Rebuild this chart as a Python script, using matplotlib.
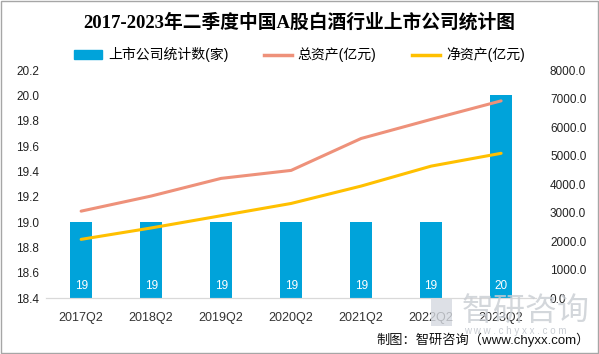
import matplotlib.pyplot as plt
from matplotlib.patches import Patch, Rectangle
from matplotlib.lines import Line2D

plt.rcParams['font.family'] = ['Liberation Sans', 'Noto Sans CJK SC']

# data
quarters = ['2017Q2', '2018Q2', '2019Q2', '2020Q2', '2021Q2', '2022Q2', '2023Q2']
companies = [19, 19, 19, 19, 19, 19, 20]
total_assets = [3050, 3580, 4200, 4480, 5600, 6270, 6920]
net_assets = [2060, 2460, 2890, 3320, 3930, 4630, 5080]

left_ticks = [18.4, 18.6, 18.8, 19.0, 19.2, 19.4, 19.6, 19.8, 20.0, 20.2]
right_ticks = [0, 1000, 2000, 3000, 4000, 5000, 6000, 7000, 8000]

bar_c = '#00A3DA'
total_c = '#EE917A'
net_c = '#FFC000'

fig = plt.figure(figsize=(5.99, 3.54), dpi=100)
ax = fig.add_axes([0.077, 0.158, 0.818, 0.644])
ax2 = ax.twinx()

x = list(range(len(quarters)))
ax.bar(x, companies, width=0.32, color=bar_c, bottom=0, zorder=2)
ax.set_ylim(18.4, 20.2)
ax.set_xlim(-0.5, len(quarters) - 0.5)
ax.set_yticks(left_ticks)
ax.set_yticklabels([f'{t:.1f}' for t in left_ticks], fontsize=8.5, color='#222222')
ax.set_xticks(x)
ax.set_xticklabels(quarters, fontsize=9, color='#333333')
ax.tick_params(length=0, pad=5)
ax.tick_params(axis='x', pad=10)

for i, v in enumerate(companies):
    ax.annotate(str(v), xy=(i, 18.4), xytext=(0, 8.5), textcoords='offset points',
                ha='center', va='center', color='white', fontsize=8.5, zorder=5)

ax2.plot(x, total_assets, color=total_c, lw=2.2, solid_capstyle='round')
ax2.plot(x, net_assets, color=net_c, lw=2.2, solid_capstyle='round')
ax2.set_ylim(0, 8000)
ax2.set_yticks(right_ticks)
ax2.set_yticklabels([f'{t:.1f}' for t in right_ticks], fontsize=8.5, color='#222222')
ax2.tick_params(length=0, pad=10)

for a in (ax, ax2):
    for s in ('top', 'left', 'right'):
        a.spines[s].set_visible(False)
    a.spines['bottom'].set_color('#D9D9D9')

# title and legend
fig.text(0.5, 0.938, '2017-2023年二季度中国A股白酒行业上市公司统计图', ha='center', va='center',
         fontsize=13.5, fontweight='bold', family=['Liberation Serif', 'Noto Sans CJK SC'])

handles = [Patch(color=bar_c), Line2D([], [], color=total_c, lw=2.5), Line2D([], [], color=net_c, lw=2.5)]
labels = ['上市公司统计数(家)', '总资产(亿元)', '净资产(亿元)']
fig.legend(handles, labels, loc='center', bbox_to_anchor=(0.5, 0.845), ncol=3, frameon=False,
           fontsize=10, handlelength=2.0, handleheight=0.6, columnspacing=2.6, handletextpad=0.4)

# watermark
fig.text(0.77, 0.12, '智研咨询', fontsize=23, color='#C9CDD3', ha='left', va='center', alpha=0.8)
fig.text(0.775, 0.065, 'w w w . c h y x x . c o m', fontsize=7, color='#C9CDD3', ha='left', va='center')
fig.patches.append(Rectangle((0.72, 0.08), 0.035, 0.075, transform=fig.transFigure,
                             facecolor='#D5D9E0', edgecolor='none', alpha=0.8))

fig.text(0.985, 0.04, '制图：智研咨询（www.chyxx.com）', ha='right', va='center', fontsize=9.5, color='#111111')

fig.patches.append(Rectangle((0.001, 0.002), 0.997, 0.995, transform=fig.transFigure,
                             fill=False, edgecolor='#A6A6A6', lw=1))

fig.savefig('out.png', dpi=100)
